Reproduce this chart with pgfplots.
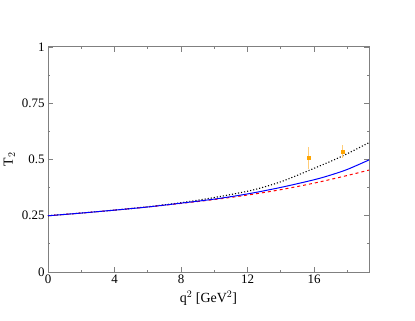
\documentclass[border=0pt]{standalone}
\usepackage{pgfplots}
\pgfplotsset{compat=1.18}
\usepackage{fontspec}
\setmainfont{Liberation Serif}
\definecolor{ptorange}{RGB}{255,165,0}
\definecolor{barorange}{RGB}{255,205,120}
\begin{document}
\begin{tikzpicture}
\begin{axis}[
    scale only axis,
    width=321bp, height=225bp,
    xmin=0, xmax=19.3,
    ymin=0, ymax=1,
    xtick={0,4,8,12,16},
    ytick={0,0.25,0.5,0.75,1},
    yticklabels={0,0.25,0.5,0.75,1},
    minor xtick={2,6,10,14,18},
    minor ytick={0.125,0.375,0.625,0.875},
    tick align=inside,
    major tick length=5bp, minor tick length=2.5bp,
    axis line style={gray, line width=1pt},
    every tick/.style={gray, line width=0.8pt},
    tick label style={font=\fontsize{13}{15}\selectfont},
    xticklabel style={yshift=1bp},
    /pgf/number format/assume math mode=true,
    xlabel={q$^{2}$ [GeV$^{2}$]},
    ylabel={T$_{2}$},
    label style={font=\fontsize{14}{16}\selectfont},
    xlabel style={yshift=-1bp},
    ylabel style={yshift=0bp},
    clip=false,
]
% black dotted
\addplot[black, dotted, line width=1.1pt, smooth] coordinates {
  (0,0.250) (2,0.262) (4,0.275) (6,0.290) (8,0.308) (10,0.331) (12,0.359)
  (13,0.378) (14,0.401) (15,0.430) (16,0.461) (17,0.492) (18,0.526) (19.3,0.575)
};
% red dashed
\addplot[red, dashed, line width=1pt, smooth] coordinates {
  (0,0.250) (2,0.262) (4,0.275) (6,0.289) (8,0.305) (10,0.322) (12,0.342)
  (14,0.366) (16,0.395) (18,0.429) (19.3,0.453)
};
% blue solid
\addplot[blue, line width=1pt, smooth] coordinates {
  (0,0.250) (2,0.262) (4,0.275) (6,0.289) (8,0.306) (10,0.324) (12,0.347)
  (14,0.376) (16,0.410) (17,0.431) (18,0.456) (19.3,0.498)
};
% data points
\addplot[only marks, mark=square*, mark size=1.6pt, color=ptorange,
    error bars/.cd, y dir=both, y explicit,
    error bar style={barorange, line width=1.2pt}, error mark=none]
  coordinates {
  (15.66,0.507) +- (0,0.050)
  (17.73,0.536) +- (0,0.028)
};
\end{axis}
\path (current axis.south west) ++(-48bp,-49bp) coordinate (bl);
\path (current axis.north east) ++(46bp,47bp) coordinate (tr);
\path (bl) rectangle (tr);
\end{tikzpicture}
\end{document}
